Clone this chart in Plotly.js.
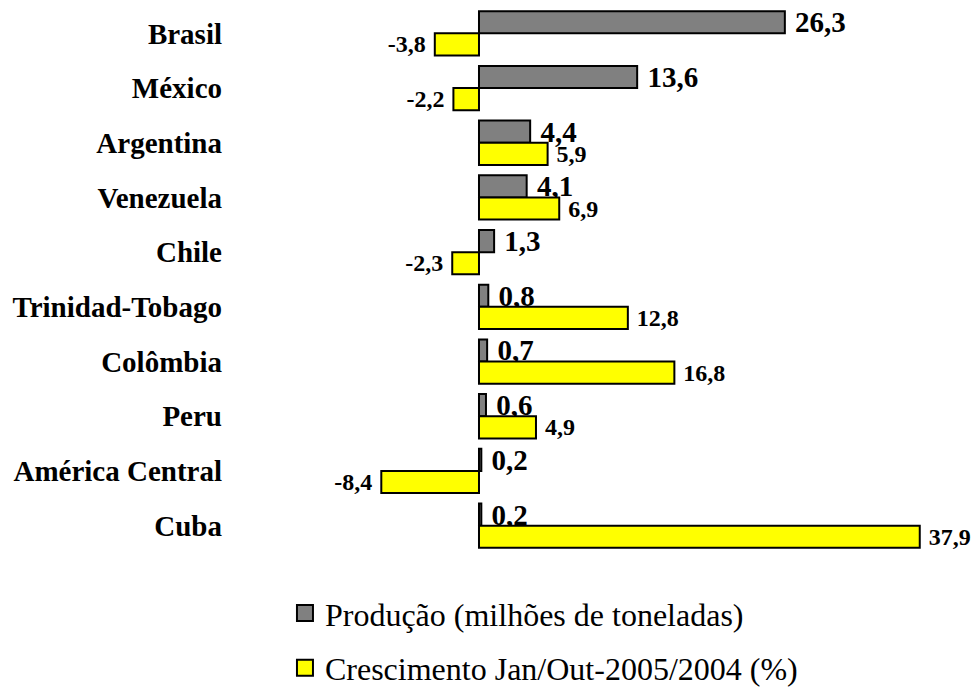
<!DOCTYPE html>
<html>
<head>
<meta charset="utf-8">
<script src="https://cdn.plot.ly/plotly-3.0.1.min.js"></script>
<style>
  html, body { margin: 0; padding: 0; background: #ffffff; }
  #chart { width: 978px; height: 688px; }
</style>
</head>
<body>
<div id="chart"></div>
<script>
// Países da América Latina
const countries = [
  "Brasil", "México", "Argentina", "Venezuela", "Chile",
  "Trinidad-Tobago", "Colômbia", "Peru", "América Central", "Cuba"
];

// Produção (milhões de toneladas)
const production = [26.3, 13.6, 4.4, 4.1, 1.3, 0.8, 0.7, 0.6, 0.2, 0.2];

// Crescimento Jan/Out-2005/2004 (%)
const growth = [-3.8, -2.2, 5.9, 6.9, -2.3, 12.8, 16.8, 4.9, -8.4, 37.9];

const serif = "'Liberation Serif', 'Times New Roman', Times, serif";

const prodName = "Produção (milhões de toneladas)";
const growthName = "Crescimento Jan/Out-2005/2004 (%)";

// a space of breathing room between each bar end and its value
const labelFor = v => (v < 0 ? "%{x:.1f} " : " %{x:.1f}");

const traces = [
  {
    type: "bar",
    orientation: "h",
    name: prodName,
    y: countries,
    x: production,
    marker: { color: "#808080", line: { color: "#000000", width: 2 } },
    texttemplate: production.map(labelFor),
    textposition: "outside",
    constraintext: "none",
    textfont: { family: serif, size: 29, color: "#000000", weight: "bold" },
    cliponaxis: false,
    hoverinfo: "none",
    showlegend: false
  },
  {
    type: "bar",
    orientation: "h",
    name: growthName,
    y: countries,
    x: growth,
    marker: { color: "#FFFF00", line: { color: "#000000", width: 2 } },
    texttemplate: growth.map(labelFor),
    textposition: "outside",
    constraintext: "none",
    textfont: { family: serif, size: 24, color: "#000000", weight: "bold" },
    cliponaxis: false,
    hoverinfo: "none",
    showlegend: false
  },
  // legend keys: large square swatches for both series
  {
    type: "scatter",
    mode: "markers",
    name: prodName,
    x: [null],
    y: [null],
    marker: { symbol: "square", size: 16, color: "#808080", line: { color: "#000000", width: 2 } },
    hoverinfo: "none",
    legendgroup: "a"
  },
  {
    type: "scatter",
    mode: "markers",
    name: growthName,
    x: [null],
    y: [null],
    marker: { symbol: "square", size: 16, color: "#FFFF00", line: { color: "#000000", width: 2 } },
    hoverinfo: "none",
    legendgroup: "b"
  }
];

const layout = {
  width: 978,
  height: 688,
  paper_bgcolor: "#ffffff",
  plot_bgcolor: "#ffffff",
  separators: ",.",
  margin: { l: 240, r: 8, t: 6, b: 135, autoexpand: false },
  barmode: "group",
  bargap: 0.19,
  bargroupgap: 0,
  font: { family: serif, color: "#000000" },
  xaxis: {
    range: [-20.55, 42.22],
    visible: false,
    fixedrange: true
  },
  yaxis: {
    type: "category",
    autorange: "reversed",
    showgrid: false,
    zeroline: false,
    showline: false,
    ticks: "",
    ticklabelstandoff: 17,
    tickfont: { family: serif, size: 29, color: "#000000", weight: "bold" },
    fixedrange: true
  },
  showlegend: true,
  legend: {
    orientation: "v",
    x: 0.0616,
    xanchor: "left",
    y: -0.0600,
    yanchor: "top",
    traceorder: "grouped",
    tracegroupgap: 10,
    itemsizing: "trace",
    font: { family: serif, size: 32, color: "#000000" },
    bgcolor: "rgba(0,0,0,0)"
  }
};

Plotly.newPlot("chart", traces, layout, { displayModeBar: false, staticPlot: true });
</script>
</body>
</html>
